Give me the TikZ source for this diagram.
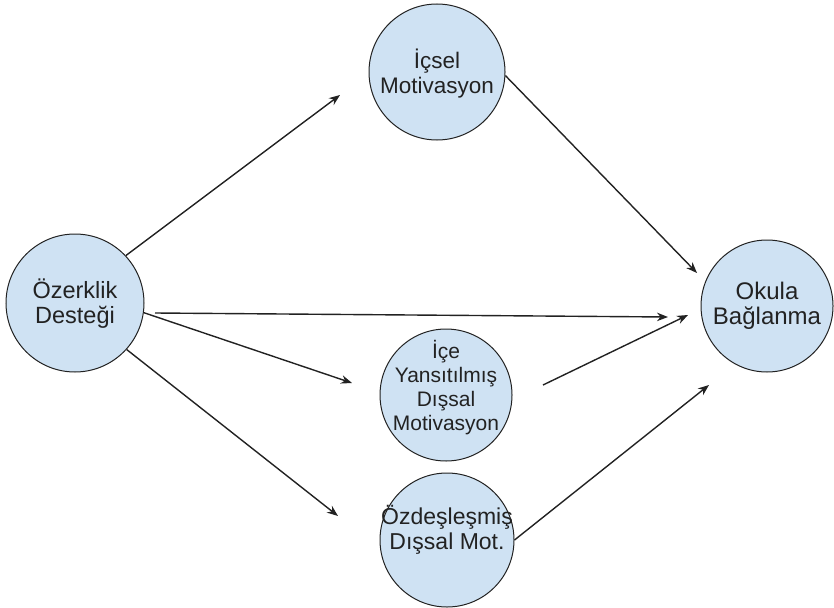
\documentclass[tikz,border=0pt]{standalone}
\usepackage{fontspec}
\setmainfont{Liberation Sans}
\usetikzlibrary{arrows.meta}
\definecolor{fillblue}{HTML}{CFE2F3}
\definecolor{linegray}{HTML}{222222}
\begin{document}
\begin{tikzpicture}[x=1pt,y=-1pt,
  bubble/.style={circle, draw=linegray, line width=1pt, fill=fillblue, inner sep=0pt, minimum size=#1},
  lbl/.style={align=center, font=\fontsize{#1}{25}\selectfont, inner sep=0pt, text=linegray},
  lblsmall/.style={align=center, font=\fontsize{21}{24}\selectfont, inner sep=0pt, text=linegray},
  conn/.style={draw=linegray, line width=1.4pt, -{Stealth[length=11pt,width=8.5pt]}}]
\useasboundingbox (0,0) rectangle (834,607);
% circles
\node[bubble=138pt] (oz) at (75,303) {};
\node[bubble=136pt] (ic) at (437,72) {};
\node[bubble=132pt] (ok) at (767,306) {};
\node[bubble=132pt] (ie) at (446,395) {};
\node[bubble=134pt] (od) at (447,540) {};
% texts
\node[lbl=23.5] (ozt) at (75,304) {Özerklik\\Desteği};
\node[lbl=22.5] (ict) at (437,74) {İçsel\\Motivasyon};
\node[lbl=24] (okt) at (767,306) {Okula\\Bağlanma};
\node[lblsmall] (iet) at (446,388) {İçe\\Yansıtılmış\\Dışsal\\Motivasyon};
\node[lbl=23] (odt) at (447,530) {Özdeşleşmiş\\Dışsal Mot.};
% free ends
\coordinate (t1) at (340,95);
\coordinate (t2) at (697,273);
\coordinate (s3) at (155,313);
\coordinate (t3) at (668,317);
\coordinate (t4) at (352,383);
\coordinate (t5) at (338,516);
\coordinate (s6) at (543,385);
\coordinate (t6) at (688,315);
\coordinate (t7) at (709,385);
% connectors
\draw[conn] (oz.43) -- (t1);
\draw[conn] (ic.-3) -- (t2);
\draw[conn] (s3) -- (t3);
\draw[conn] (oz.-8) -- (t4);
\draw[conn] (oz.-42) -- (t5);
\draw[conn] (s6) -- (t6);
\draw[conn] (od.0) -- (t7);
\end{tikzpicture}
\end{document}
